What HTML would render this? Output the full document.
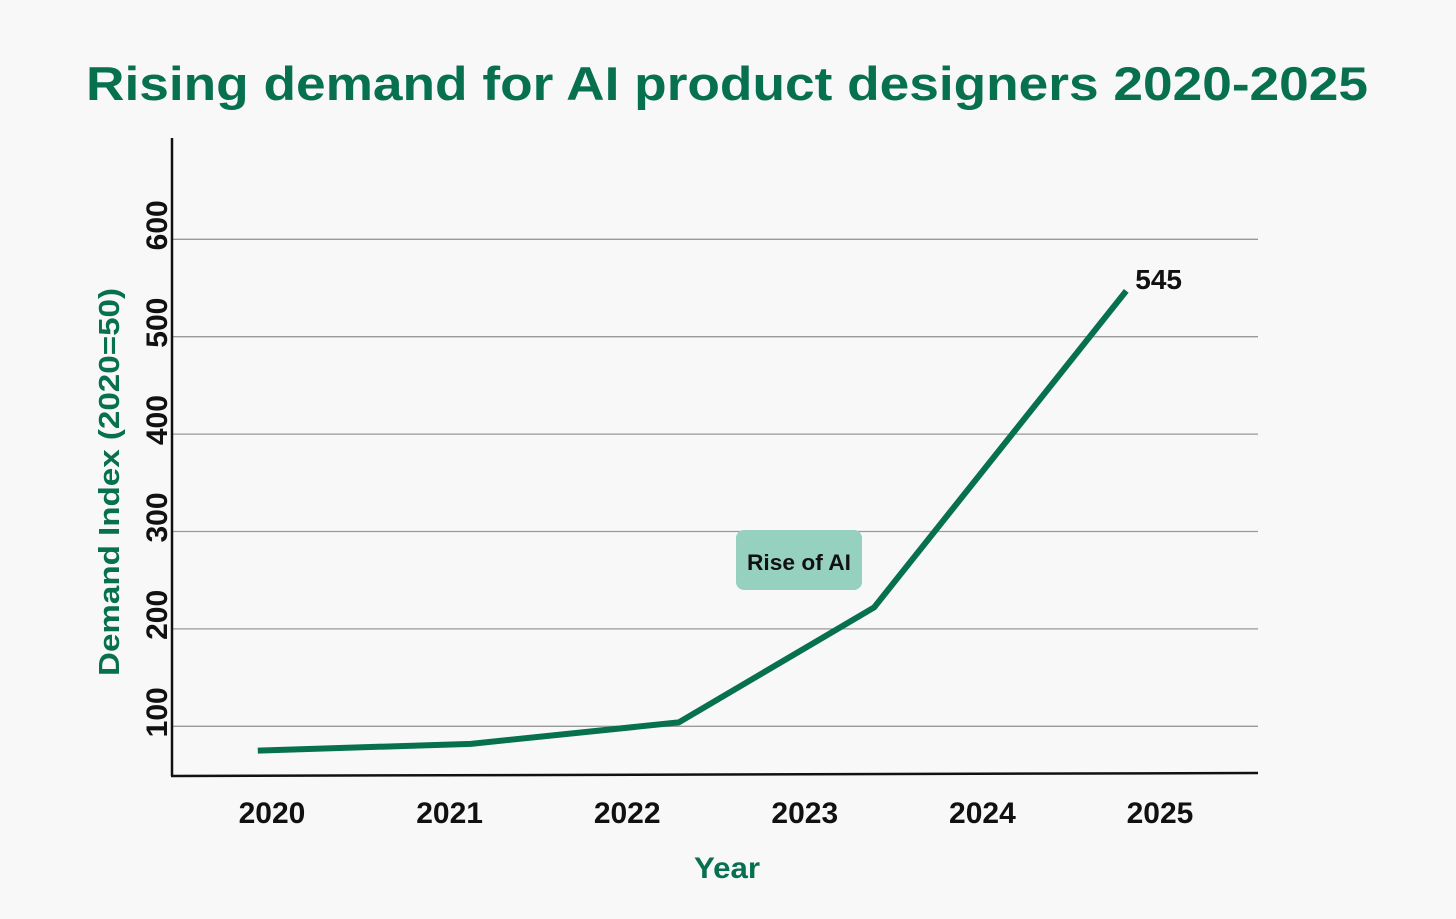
<!DOCTYPE html>
<html><head><meta charset="utf-8"><style>
html,body{margin:0;padding:0;background:#f8f8f8;}
svg{display:block;font-family:"Liberation Sans",sans-serif;}
</style></head><body>
<svg id="chart" width="1456" height="919" viewBox="0 0 1456 919">
<rect x="0" y="0" width="1456" height="919" fill="#f8f8f8"/>
<text x="727" y="100" text-anchor="middle" font-size="47" font-weight="bold" fill="#06704f" textLength="1282" lengthAdjust="spacingAndGlyphs">Rising demand for AI product designers 2020-2025</text>
<g id="grid"></g>
<g id="yticks"></g>
<g id="xticks"></g>
<line x1="172" y1="138" x2="172" y2="776" stroke="#111" stroke-width="2.5"/>
<line x1="171" y1="776" x2="1258" y2="773" stroke="#111" stroke-width="2.5"/>
<text transform="translate(119,482) rotate(-90)" text-anchor="middle" font-size="29" font-weight="bold" fill="#06704f" textLength="388" lengthAdjust="spacingAndGlyphs">Demand Index (2020=50)</text>
<text x="727" y="878" text-anchor="middle" font-size="30" font-weight="bold" fill="#06704f" textLength="66" lengthAdjust="spacingAndGlyphs">Year</text>
<g>
<rect x="736" y="530" width="126" height="60" rx="8" fill="#96d1bf"/>
<text x="799" y="570" text-anchor="middle" font-size="22" font-weight="bold" fill="#111" textLength="104" lengthAdjust="spacingAndGlyphs">Rise of AI</text>
</g>
<g id="series"></g>
</svg>
<script>
const yTicks = [100, 200, 300, 400, 500, 600];
const years = [2020, 2021, 2022, 2023, 2024, 2025];
const pointTimes = [2019.92, 2021.12, 2022.29, 2023.39, 2024.81];
const demandValues = [75, 82, 104, 222, 547];
const endLabel = "545";

const NS = "http://www.w3.org/2000/svg";
function y(v){ return 775 - (v - 50) * 0.974; }
function x(t){ return 272 + (t - 2020) * 177.6; }
function mk(tag, attrs, parent){ const e = document.createElementNS(NS, tag); for (const k in attrs) e.setAttribute(k, attrs[k]); parent.appendChild(e); return e; }

const grid = document.getElementById('grid');
const yt = document.getElementById('yticks');
yTicks.forEach(v => {
  const l = mk('line', {x1:172, x2:1258, y1:y(v), y2:y(v), stroke:'#999', 'stroke-width':1.3}, grid);
  
  
  const t = mk('text', {transform:'translate(167,' + (y(v) - 14) + ') rotate(-90)', 'text-anchor':'middle', 'font-size':30, 'font-weight':'bold', fill:'#111'}, yt);
  t.textContent = v;
  
  
});
const xt = document.getElementById('xticks');
years.forEach(yr => {
  const t = mk('text', {x:x(yr), y:823, 'text-anchor':'middle', 'font-size':30, 'font-weight':'bold', fill:'#111'}, xt);
  t.textContent = yr;
  
  
});
const s = document.getElementById('series');
const pts = pointTimes.map((t, i) => x(t) + ',' + y(demandValues[i])).join(' ');
const line = mk('polyline', {points:pts, fill:'none', stroke:'#06704f', 'stroke-width':6, 'stroke-linejoin':'round'}, s);


const n = pointTimes.length - 1;
const lab = mk('text', {x:x(pointTimes[n]) + 9, y:y(demandValues[n]) - 2, 'font-size':28, 'font-weight':'bold', fill:'#111'}, s);
lab.textContent = endLabel;


</script>
</body></html>
